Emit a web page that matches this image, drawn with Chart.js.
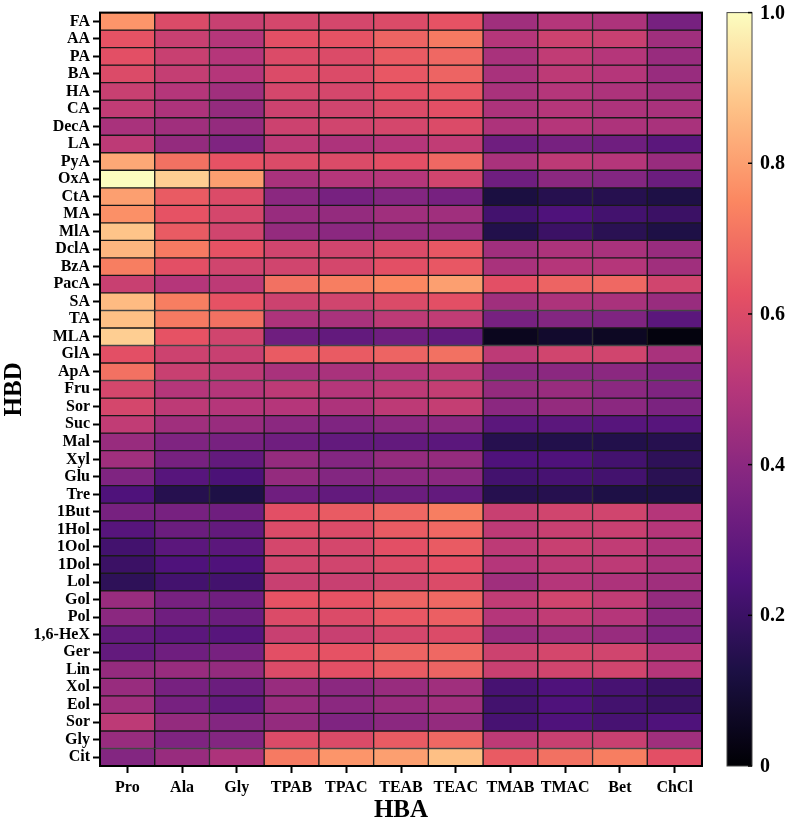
<!DOCTYPE html>
<html><head><meta charset="utf-8">
<script src="https://cdn.jsdelivr.net/npm/chart.js@4/dist/chart.umd.min.js"></script>
<style>body{margin:0;background:#fff}canvas{display:block}</style></head><body>
<canvas id="c" width="789" height="826"></canvas>
<script>
const hba = ['Pro','Ala','Gly','TPAB','TPAC','TEAB','TEAC','TMAB','TMAC','Bet','ChCl'];
const hbd = ['FA','AA','PA','BA','HA','CA','DecA','LA','PyA','OxA','CtA','MA','MlA','DclA','BzA','PacA','SA','TA','MLA','GlA','ApA','Fru','Sor','Suc','Mal','Xyl','Glu','Tre','1But','1Hol','1Ool','1Dol','Lol','Gol','Pol','1,6-HeX','Ger','Lin','Xol','Eol','Sor','Gly','Cit'];
const colorbarTicks = ['0','0.2','0.4','0.6','0.8','1.0'];

const valPro  = [.78,.63,.62,.60,.55,.53,.47,.52,.82,1.00,.80,.77,.88,.85,.73,.55,.86,.87,.90,.62,.70,.58,.58,.53,.43,.45,.37,.25,.35,.27,.22,.20,.17,.43,.40,.30,.30,.42,.43,.45,.52,.43,.38];
const valAla  = [.60,.55,.55,.54,.50,.48,.45,.42,.70,.90,.65,.63,.65,.72,.62,.50,.73,.72,.63,.56,.55,.50,.52,.45,.37,.35,.27,.15,.35,.32,.28,.25,.22,.35,.33,.28,.33,.43,.35,.35,.42,.37,.43];
const valGly  = [.55,.50,.50,.50,.45,.42,.42,.37,.63,.80,.60,.58,.57,.63,.57,.52,.63,.70,.57,.55,.52,.50,.50,.43,.35,.30,.24,.13,.33,.30,.28,.25,.22,.33,.32,.27,.35,.42,.32,.30,.38,.38,.48];
const valTPAB = [.58,.62,.60,.60,.58,.56,.56,.52,.60,.47,.40,.43,.42,.57,.57,.70,.56,.48,.33,.65,.47,.52,.50,.40,.33,.42,.42,.33,.62,.60,.58,.57,.55,.63,.60,.55,.62,.60,.43,.43,.42,.60,.72];
const valTPAC = [.58,.63,.60,.60,.58,.57,.57,.48,.60,.50,.35,.42,.40,.57,.58,.73,.57,.47,.30,.65,.47,.50,.48,.37,.30,.38,.38,.30,.65,.60,.58,.57,.55,.63,.60,.55,.63,.62,.40,.40,.37,.60,.78];
const valTEAB = [.60,.67,.65,.64,.62,.60,.58,.50,.62,.50,.38,.45,.42,.60,.62,.75,.60,.52,.33,.67,.50,.52,.52,.40,.30,.42,.40,.32,.68,.65,.62,.60,.57,.67,.64,.58,.67,.65,.43,.43,.40,.65,.80];
const valTEAC = [.63,.72,.68,.67,.64,.62,.60,.53,.68,.57,.35,.45,.42,.64,.64,.80,.62,.53,.30,.70,.52,.54,.54,.40,.28,.42,.40,.30,.73,.68,.65,.62,.60,.68,.66,.60,.68,.67,.45,.45,.42,.68,.87];
const valTMAB = [.45,.50,.47,.47,.47,.48,.48,.33,.47,.33,.12,.22,.14,.45,.47,.62,.45,.35,.05,.52,.40,.42,.40,.28,.15,.25,.22,.15,.55,.52,.52,.50,.45,.53,.50,.43,.56,.55,.23,.22,.23,.52,.65];
const valTMAC = [.50,.56,.53,.52,.50,.50,.50,.35,.52,.40,.15,.25,.20,.48,.50,.67,.48,.38,.08,.57,.40,.43,.42,.28,.14,.25,.23,.15,.57,.55,.55,.52,.50,.57,.53,.45,.58,.57,.25,.25,.25,.55,.70];
const valBet  = [.48,.55,.50,.50,.48,.48,.48,.33,.50,.38,.15,.22,.16,.47,.50,.68,.47,.37,.06,.57,.40,.40,.40,.27,.14,.22,.22,.13,.57,.55,.53,.52,.48,.53,.50,.43,.57,.57,.23,.22,.23,.55,.73];
const valChCl = [.35,.45,.43,.43,.45,.47,.47,.28,.43,.32,.13,.20,.13,.43,.45,.57,.43,.28,.02,.47,.37,.37,.36,.27,.15,.17,.16,.13,.50,.50,.48,.47,.45,.42,.40,.37,.50,.50,.20,.20,.25,.45,.62];

const columns = [valPro,valAla,valGly,valTPAB,valTPAC,valTEAB,valTEAC,valTMAB,valTMAC,valBet,valChCl];

const magmaStops = [[0,0,4],[28,16,68],[79,18,123],[129,37,129],[181,54,122],[229,80,100],[251,135,97],[254,194,135],[252,253,191]];
function magma(v){
  v = Math.max(0, Math.min(1, v));
  const p = v * 8, i = Math.min(7, Math.floor(p)), t = p - i;
  const a = magmaStops[i], b = magmaStops[i+1];
  const c = a.map((x,k)=>Math.round(x + (b[k]-x)*t));
  return `rgb(${c[0]},${c[1]},${c[2]})`;
}

const FONT = 'Liberation Serif, Times New Roman, serif';
const tickFont = {family: FONT, weight: 'bold', size: 16};
const titleFont = {family: FONT, weight: 'bold', size: 25};

const datasets = hbd.map((name, r) => ({
  label: name,
  data: hba.map(() => [r, r + 1]),
  backgroundColor: columns.map(col => magma(col[r])),
  borderColor: '#1a1a1a',
  borderWidth: 1,
  borderSkipped: false,
  grouped: false,
  categoryPercentage: 1,
  barPercentage: 1
}));

const frameAndColorbar = {
  id: 'frameAndColorbar',
  afterDraw(chart) {
    const {ctx, chartArea: a} = chart;
    ctx.save();
    ctx.strokeStyle = '#000';
    ctx.lineWidth = 2;
    ctx.strokeRect(a.left, a.top, a.right - a.left, a.bottom - a.top);
    const x0 = a.right + 25, w = 25, top = a.top, bot = a.bottom;
    const g = ctx.createLinearGradient(0, bot, 0, top);
    for (let k = 0; k <= 40; k++) g.addColorStop(k/40, magma(k/40));
    ctx.fillStyle = g;
    ctx.fillRect(x0, top, w, bot - top);
    ctx.lineWidth = 1;
    ctx.strokeStyle = '#444';
    ctx.strokeRect(x0, top, w, bot - top);
    ctx.fillStyle = '#000';
    ctx.font = 'bold 20px ' + FONT;
    ctx.textBaseline = 'middle';
    ctx.textAlign = 'left';
    colorbarTicks.forEach(t => {
      const v = parseFloat(t);
      const y = bot - v * (bot - top);
      ctx.beginPath();
      ctx.strokeStyle = '#000';
      ctx.lineWidth = 1.5;
      ctx.moveTo(x0 + w - 4, y); ctx.lineTo(x0 + w, y);
      ctx.stroke();
      ctx.fillText(t, x0 + w + 8, y + 1);
    });
    ctx.restore();
  }
};

new Chart(document.getElementById('c'), {
  type: 'bar',
  data: {labels: hba, datasets},
  options: {
    responsive: false,
    animation: false,
    layout: {padding: {top: 7, right: 87, left: 0, bottom: 0}},
    plugins: {legend: {display: false}, tooltip: {enabled: false}},
    scales: {
      x: {
        type: 'category', offset: true,
        grid: {offset: false, drawOnChartArea: false, drawTicks: true, tickLength: 7, tickWidth: 2, tickColor: '#000'},
        border: {display: true, color: '#000', width: 2},
        ticks: {font: tickFont, color: '#000', padding: 5, maxRotation: 0, autoSkip: false},
        title: {display: true, text: 'HBA', font: titleFont, color: '#000', padding: {top: 6, bottom: 0}},
        afterFit: s => { s.height = 60; }
      },
      y: {
        type: 'linear', min: 0, max: hbd.length, reverse: true,
        afterBuildTicks: s => { s.ticks = hbd.map((_, i) => ({value: i + 0.5})); },
        ticks: {font: tickFont, color: '#000', padding: 3, autoSkip: false, callback: (v, i) => hbd[i]},
        grid: {drawOnChartArea: false, drawTicks: true, tickLength: 7, tickWidth: 2, tickColor: '#000'},
        border: {display: true, color: '#000', width: 2},
        title: {display: true, text: 'HBD', font: titleFont, color: '#000', padding: {top: 0, bottom: 4}},
        afterFit: s => { s.width = 100; }
      }
    }
  },
  plugins: [frameAndColorbar]
});
</script>
</body></html>
